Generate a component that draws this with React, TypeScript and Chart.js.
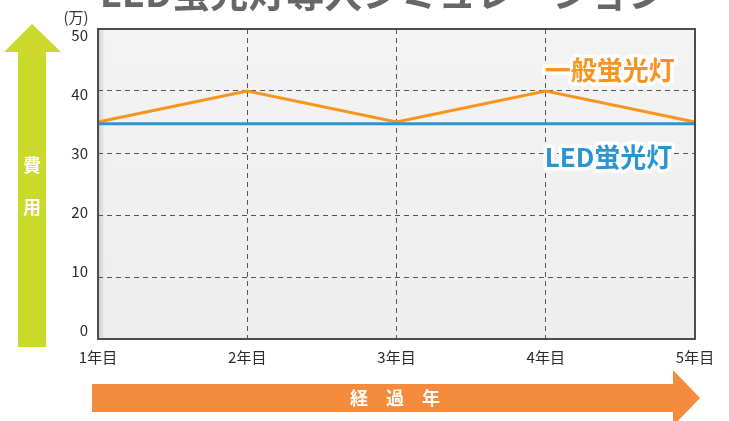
import React, { useEffect, useRef } from 'react';
import { Chart, registerables } from 'chart.js';

Chart.register(...registerables);

const FONT = '"Noto Sans CJK JP", "Noto Sans", sans-serif';

const years = ['1年目', '2年目', '3年目', '4年目', '5年目'];
const generalCost = [35, 40, 35, 40, 35];
const ledCost = [34.7, 34.7, 34.7, 34.7, 34.7];
const yTicks = [0, 10, 20, 30, 40, 50];
const seriesNames = ['一般蛍光灯', 'LED蛍光灯'];
const seriesColors = ['#f7941d', '#2b95d2'];
const labelValues = [43.4, 29.35];
const titleText = 'LED蛍光灯導入シミュレーション';
const unitText = '(万)';
const yTitleChars = ['費', '用'];
const xTitleText = '経　過　年';

const decor = {
  id: 'decor',
  beforeDraw(chart: any) {
    const { ctx, chartArea: a } = chart;
    ctx.save();
    ctx.fillStyle = '#ffffff';
    ctx.fillRect(0, 0, chart.width, chart.height);
    const g = ctx.createLinearGradient(0, a.top, 0, a.bottom);
    g.addColorStop(0, '#f3f3f3');
    g.addColorStop(1, '#eeeeee');
    ctx.fillStyle = g;
    ctx.fillRect(a.left, a.top, a.right - a.left, a.bottom - a.top);
    const s = ctx.createLinearGradient(a.left, 0, a.left + 7, 0);
    s.addColorStop(0, 'rgba(150,150,150,0.4)');
    s.addColorStop(1, 'rgba(150,150,150,0)');
    ctx.fillStyle = s;
    ctx.fillRect(a.left, a.top, 7, a.bottom - a.top);
    ctx.restore();
  },
  afterDraw(chart: any) {
    const { ctx, chartArea: a, scales } = chart;
    ctx.save();
    // plot border
    ctx.strokeStyle = '#4d4d4d';
    ctx.lineWidth = 2;
    ctx.strokeRect(a.left, a.top, a.right - a.left, a.bottom - a.top);

    // title (clipped at top)
    ctx.font = `bold 38px ${FONT}`;
    ctx.fillStyle = '#676767';
    ctx.textAlign = 'center';
    ctx.textBaseline = 'alphabetic';
    ctx.fillText(titleText, 383, 7);

    // unit
    ctx.font = `15px ${FONT}`;
    ctx.fillStyle = '#333';
    ctx.textBaseline = 'middle';
    ctx.fillText(unitText, 76, 17);

    // green arrow
    ctx.fillStyle = '#cbd92b';
    ctx.beginPath();
    ctx.moveTo(32, 24);
    ctx.lineTo(61, 52);
    ctx.lineTo(46, 52);
    ctx.lineTo(46, 347);
    ctx.lineTo(18, 347);
    ctx.lineTo(18, 52);
    ctx.lineTo(4, 52);
    ctx.closePath();
    ctx.fill();
    ctx.fillStyle = '#ffffff';
    ctx.font = `bold 18px ${FONT}`;
    ctx.fillText(yTitleChars[0], 32, 165);
    ctx.fillText(yTitleChars[1], 32, 207);

    // orange arrow
    ctx.fillStyle = '#f58b3c';
    ctx.beginPath();
    ctx.moveTo(92, 384);
    ctx.lineTo(673, 384);
    ctx.lineTo(673, 370);
    ctx.lineTo(700, 398);
    ctx.lineTo(673, 426);
    ctx.lineTo(673, 412);
    ctx.lineTo(92, 412);
    ctx.closePath();
    ctx.fill();
    ctx.fillStyle = '#ffffff';
    ctx.font = `bold 18px ${FONT}`;
    ctx.fillText(xTitleText, 395, 398);

    // series labels
    const lx = scales.x.getPixelForValue(3) - 1;
    ctx.font = `bold 26px ${FONT}`;
    ctx.textAlign = 'left';
    ctx.lineJoin = 'round';
    seriesNames.forEach((name, i) => {
      const ly = scales.y.getPixelForValue(labelValues[i]);
      ctx.strokeStyle = '#ffffff';
      ctx.lineWidth = 7;
      ctx.strokeText(name, lx, ly);
      ctx.fillStyle = seriesColors[i];
      ctx.fillText(name, lx, ly);
    });
    ctx.restore();
  },
};

export default function App() {
  const ref = useRef<HTMLCanvasElement>(null);
  useEffect(() => {
    if (!ref.current) return;
    const chart = new Chart(ref.current, {
      type: 'line',
      data: {
        labels: years,
        datasets: [
          {
            label: seriesNames[1],
            data: ledCost,
            borderColor: seriesColors[1],
            borderWidth: 3,
            pointRadius: 0,
            tension: 0,
            fill: false,
            yAxisID: 'y',
          },
          {
            label: seriesNames[0],
            data: generalCost,
            borderColor: seriesColors[0],
            borderWidth: 3,
            pointRadius: 0,
            tension: 0,
            fill: false,
            yAxisID: 'y',
          },
        ],
      },
      options: {
        responsive: false,
        animation: false,
        devicePixelRatio: 1,
        layout: { padding: { left: 0, top: 29, right: 34, bottom: 52 } },
        plugins: {
          legend: { display: false },
          tooltip: { enabled: false },
          title: { display: false },
        },
        scales: {
          x: {
            type: 'category',
            offset: false,
            grid: { color: '#555', lineWidth: 1, drawTicks: false },
            border: { display: false, dash: [5, 4] },
            ticks: {
              color: '#2a2a2a',
              font: { size: 15, family: FONT },
              padding: 9,
              maxRotation: 0,
              autoSkip: false,
            },
            afterFit: (s: any) => {
              s.height = 30;
              s.paddingLeft = 0;
              s.paddingRight = 0;
            },
          },
          y: {
            position: 'left',
            min: 0,
            max: 50,
            ticks: { stepSize: 10, display: false },
            grid: { color: '#555', lineWidth: 1, drawTicks: false },
            border: { display: false, dash: [5, 4] },
            afterFit: (s: any) => {
              s.width = 0;
              s.paddingTop = 0;
              s.paddingBottom = 0;
            },
          },
          yl: {
            position: 'left',
            min: -1.525,
            max: 51.02,
            afterBuildTicks: (s: any) => {
              s.ticks = yTicks.map((v) => ({ value: v }));
            },
            grid: { display: false, drawTicks: false },
            border: { display: false },
            ticks: { color: '#2a2a2a', font: { size: 15, family: FONT }, padding: 10 },
            afterFit: (s: any) => {
              s.width = 98;
              s.paddingTop = 0;
              s.paddingBottom = 0;
            },
          },
        },
      } as any,
      plugins: [decor],
    });
    return () => chart.destroy();
  }, []);
  return (
    <div style={{ position: 'absolute', left: 0, top: 0, width: 729, height: 421, background: '#fff' }}>
      <canvas ref={ref} width={729} height={421} />
    </div>
  );
}
